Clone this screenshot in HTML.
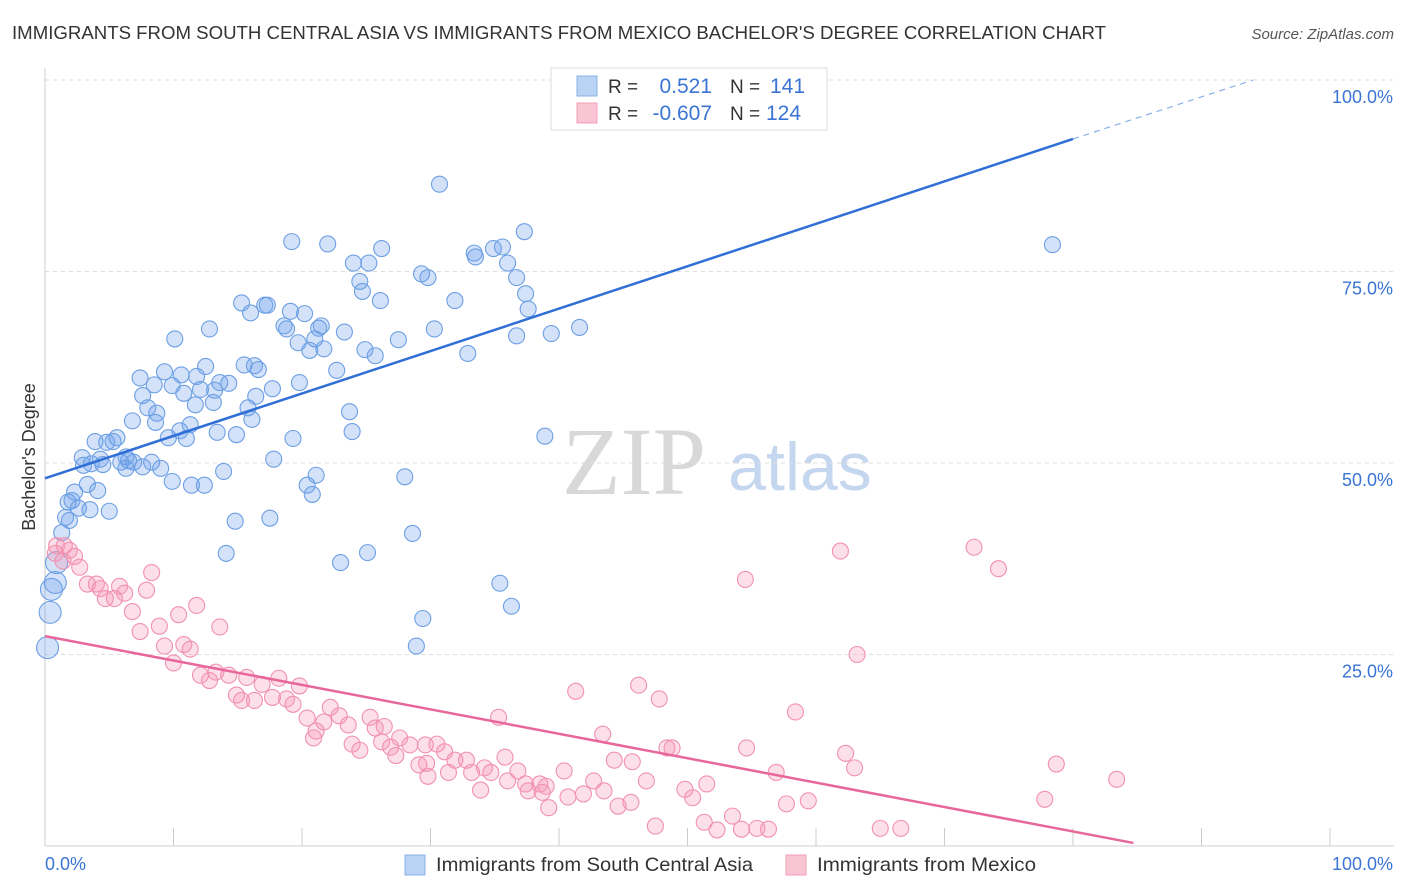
<!DOCTYPE html>
<html><head><meta charset="utf-8"><style>
body{margin:0;background:#fff;font-family:"Liberation Sans",sans-serif;}
#wrap{position:relative;width:1406px;height:892px;overflow:hidden;}
</style></head><body>
<div id="wrap">
<svg id="svg" width="1406" height="892" xmlns="http://www.w3.org/2000/svg">
<text x="12" y="39" font-size="18.5" fill="#333" textLength="1094" lengthAdjust="spacingAndGlyphs">IMMIGRANTS FROM SOUTH CENTRAL ASIA VS IMMIGRANTS FROM MEXICO BACHELOR'S DEGREE CORRELATION CHART</text>
<text x="1394" y="39" font-size="15" fill="#555" font-style="italic" text-anchor="end">Source: ZipAtlas.com</text>
<text x="35" y="457" font-size="18" fill="#333" text-anchor="middle" transform="rotate(-90 35 457)">Bachelor's Degree</text>
<text x="634" y="494" font-size="96" fill="#d8d8d8" font-family="Liberation Serif" text-anchor="middle">ZIP</text>
<text x="800" y="490" font-size="68" fill="#c5d7ee" text-anchor="middle">atlas</text>
<g id="grid"></g><g id="marks"></g>
<g>
<rect x="551" y="68" width="276" height="62" fill="#fff" stroke="#ddd"/>
<rect x="577" y="76" width="20" height="20" fill="#b9d3f5" stroke="#8ab0e8"/>
<rect x="577" y="103" width="20" height="20" fill="#f9c5d5" stroke="#f0a0b8"/>
<text x="608" y="93" font-size="19" fill="#333">R =</text>
<text x="712" y="93" font-size="21" fill="#3a74d4" text-anchor="end">0.521</text>
<text x="730" y="93" font-size="19" fill="#333">N =</text>
<text x="770" y="93" font-size="21" fill="#3a74d4">141</text>
<text x="608" y="120" font-size="19" fill="#333">R =</text>
<text x="712" y="120" font-size="21" fill="#3a74d4" text-anchor="end">-0.607</text>
<text x="730" y="120" font-size="19" fill="#333">N =</text>
<text x="766" y="120" font-size="21" fill="#3a74d4">124</text>
</g>
<g>
<rect x="405" y="855" width="20" height="20" fill="#b9d3f5" stroke="#8ab0e8"/>
<text x="436" y="871" font-size="19.5" fill="#333" textLength="317" lengthAdjust="spacingAndGlyphs">Immigrants from South Central Asia</text>
<rect x="786" y="855" width="20" height="20" fill="#f9c5d5" stroke="#f0a0b8"/>
<text x="817" y="871" font-size="19.5" fill="#333" textLength="219" lengthAdjust="spacingAndGlyphs">Immigrants from Mexico</text>
</g>
</svg>
</div>
<script>
const yTicks=[25,50,75,100];
const yTickLabels=["25.0%","50.0%","75.0%","100.0%"];
const xTicks=[0,10,20,30,40,50,60,70,80,90,100];
const blueX=[30.7,19.2,22.0,26.2,24.0,25.2,29.3,29.8,33.4,34.9,35.6,37.3,36.0,33.5,36.7,37.4,37.6,78.4,24.5,24.7,26.1,31.9,15.3,17.1,17.3,16.0,19.1,20.2,18.6,18.8,21.5,21.3,23.3,30.3,27.5,19.7,21.0,20.6,21.7,24.9,25.7,32.9,36.7,39.4,41.6,12.8,10.1,12.5,15.5,16.3,16.6,22.7,19.8,7.4,9.3,10.6,11.8,8.5,9.9,13.6,14.3,12.1,13.2,17.7,10.8,7.6,16.4,13.1,11.7,8.0,8.7,15.8,23.7,6.8,8.6,16.1,11.3,10.5,23.9,9.6,11.0,13.4,14.9,19.3,38.9,5.6,5.3,3.9,4.8,2.9,4.3,6.3,6.5,3.6,5.9,6.9,7.6,8.3,9.0,17.8,6.3,3.0,4.5,13.9,21.1,28.0,9.9,11.4,12.4,20.4,20.8,3.3,4.1,2.3,1.8,2.1,2.6,3.5,5.0,1.6,1.9,14.8,17.5,1.3,28.6,14.1,25.1,23.0,0.9,0.8,0.5,35.4,36.3,0.4,29.4,28.9,0.2];
const blueY=[86.4,78.9,78.6,78.0,76.1,76.1,74.7,74.2,77.4,78.0,78.2,80.2,76.1,76.9,74.2,72.1,70.1,78.5,73.7,72.4,71.2,71.2,70.9,70.6,70.6,69.6,69.8,69.5,67.9,67.5,67.9,67.6,67.1,67.5,66.1,65.7,66.2,64.7,64.9,64.8,64.0,64.3,66.6,66.9,67.7,67.5,66.2,62.6,62.8,62.7,62.2,62.1,60.5,61.1,61.9,61.5,61.3,60.2,60.1,60.5,60.4,59.6,59.5,59.7,59.1,58.8,58.7,57.9,57.6,57.2,56.5,57.2,56.7,55.5,55.3,55.7,55.0,54.2,54.1,53.3,53.2,54.0,53.7,53.2,53.5,53.3,52.8,52.8,52.7,50.7,50.5,50.8,50.3,49.9,50.1,50.1,49.5,50.1,49.3,50.5,49.3,49.7,49.8,48.9,48.4,48.2,47.6,47.1,47.1,47.1,45.9,47.2,46.4,46.2,44.9,45.1,44.1,43.9,43.7,42.9,42.5,42.4,42.8,40.9,40.8,38.2,38.3,37.0,37.0,34.4,33.5,34.3,31.3,30.5,29.7,26.1,25.9];
const pinkX=[0.9,1.5,1.9,0.8,2.3,1.4,2.7,8.3,61.9,72.3,74.2,54.5,3.3,4.0,4.3,5.8,7.9,6.2,4.7,5.4,11.8,6.8,10.4,8.9,13.6,7.4,9.3,10.8,11.3,63.2,10.0,12.1,12.8,13.3,14.3,15.7,18.2,16.9,19.8,46.2,41.3,47.8,14.9,15.3,16.3,17.7,18.8,19.3,22.2,20.4,22.9,25.3,35.3,58.4,21.7,23.6,25.7,26.4,21.1,20.9,23.9,24.5,26.2,27.6,26.9,28.4,29.6,30.5,31.1,27.3,43.4,48.4,48.8,54.6,62.3,35.8,44.3,45.7,31.9,32.8,29.7,29.1,34.2,34.7,33.2,36.8,31.4,63.0,56.9,78.7,83.4,29.8,40.4,36.0,37.4,38.5,39.0,42.7,46.8,51.5,33.9,37.6,38.7,40.7,41.9,43.5,49.8,50.4,45.6,44.6,39.2,57.7,59.4,77.8,47.5,51.3,52.3,53.5,54.2,55.4,56.3,65.0,66.6];
const pinkY=[39.2,39.2,38.6,38.2,37.8,37.2,36.4,35.7,38.5,39.0,36.2,34.8,34.2,34.2,33.6,33.9,33.4,33.0,32.3,32.3,31.4,30.6,30.2,28.7,28.6,28.0,26.1,26.3,25.7,25.0,23.9,22.3,21.6,22.7,22.3,22.0,21.9,21.1,20.9,21.0,20.2,19.2,19.7,19.0,19.0,19.4,19.2,18.5,18.1,16.7,17.0,16.8,16.8,17.5,16.2,15.8,15.4,15.6,15.0,14.1,13.3,12.5,13.6,14.1,12.9,13.2,13.2,13.3,12.3,11.8,14.6,12.8,12.8,12.8,12.1,11.6,11.2,11.0,11.2,11.2,10.8,10.6,10.2,9.6,9.6,9.8,9.6,10.2,9.6,10.7,8.7,9.1,9.8,8.5,8.1,8.1,7.8,8.5,8.5,8.1,7.3,7.2,7.0,6.4,6.8,7.2,7.4,6.3,5.7,5.2,5.0,5.5,5.9,6.1,2.6,3.1,2.1,3.9,2.2,2.3,2.2,2.3,2.3];
const blueTrend=[[0,48.0],[80,92.3]];
const blueTrendExt=[[80,92.3],[94,100.0]];
const pinkTrend=[[0,27.4],[84.7,0.4]];

const X0=45,X1=1330,Y0=846,Y100=80;
const sx=v=>X0+(X1-X0)*v/100;
const sy=v=>Y0-(Y0-Y100)*v/100;
const NS="http://www.w3.org/2000/svg";
function mk(tag,attrs,parent){const e=document.createElementNS(NS,tag);for(const k in attrs)e.setAttribute(k,attrs[k]);parent.appendChild(e);return e;}
const grid=document.getElementById('grid'),marks=document.getElementById('marks');
yTicks.forEach((t,i)=>{
  const l=mk('line',{x1:X0,x2:1394,y1:sy(t),y2:sy(t),stroke:'#ddd','stroke-dasharray':'4 4'},grid);
  
  
  const tx=mk('text',{x:1393,y:sy(t)+23,'font-size':18,fill:'#3a74d4','text-anchor':'end'},grid);
  tx.textContent=yTickLabels[i];
  
  
});
const ax=mk('line',{x1:X0,x2:X0,y1:68,y2:Y0,stroke:'#ccc'},grid);


const bx=mk('line',{x1:X0,x2:1394,y1:Y0,y2:Y0,stroke:'#ccc'},grid);


xTicks.forEach(t=>{
  const l=mk('line',{x1:sx(t),x2:sx(t),y1:Y0-18,y2:Y0,stroke:'#ccc'},grid);
  
  
});
const xl0=mk('text',{x:45,y:870,'font-size':18,fill:'#3a74d4'},grid);xl0.textContent='0.0%';


const xl1=mk('text',{x:1393,y:870,'font-size':18,fill:'#3a74d4','text-anchor':'end'},grid);xl1.textContent='100.0%';


blueX.forEach((x,i)=>{
  const c=mk('circle',{cx:sx(x),cy:sy(blueY[i]),r:(x<1?11:8),fill:'rgba(110,160,235,0.3)',stroke:'#6c9fe4','stroke-width':1.1},marks);
  
  
});
pinkX.forEach((x,i)=>{
  const c=mk('circle',{cx:sx(x),cy:sy(pinkY[i]),r:8,fill:'rgba(245,150,180,0.3)',stroke:'#f191b0','stroke-width':1.1},marks);
  
  
});
const bl=mk('line',{x1:sx(blueTrend[0][0]),y1:sy(blueTrend[0][1]),x2:sx(blueTrend[1][0]),y2:sy(blueTrend[1][1]),stroke:'#2f6fd6','stroke-width':2.5},marks);


const be=mk('line',{x1:sx(blueTrendExt[0][0]),y1:sy(blueTrendExt[0][1]),x2:sx(blueTrendExt[1][0]),y2:sy(blueTrendExt[1][1]),stroke:'#8aaee8','stroke-width':1.2,'stroke-dasharray':'6 5'},marks);


const pl=mk('line',{x1:sx(pinkTrend[0][0]),y1:sy(pinkTrend[0][1]),x2:sx(pinkTrend[1][0]),y2:sy(pinkTrend[1][1]),stroke:'#e8679a','stroke-width':2.5},marks);


</script>
</body></html>
